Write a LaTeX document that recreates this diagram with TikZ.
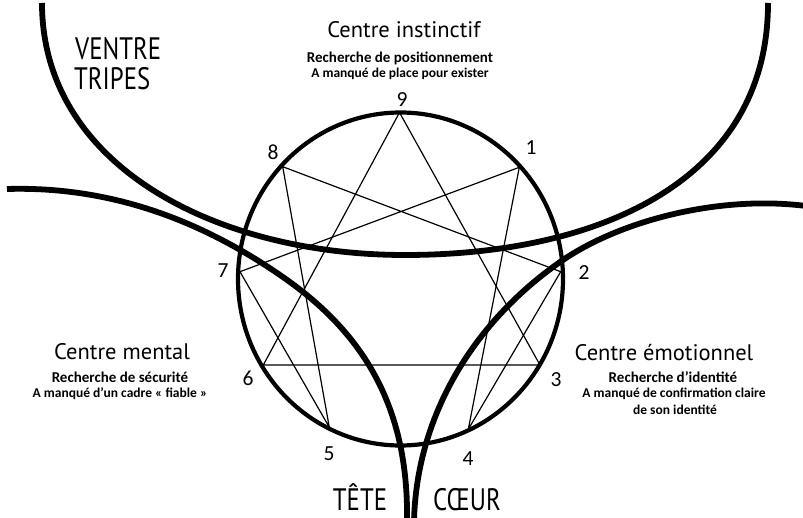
\documentclass[tikz,border=0pt]{standalone}
\usepackage{fontspec}
\setmainfont{Carlito}
\newfontfamily\hand{PT Sans}
\newfontfamily\handn[FakeStretch=0.8]{PT Sans}
\begin{document}
\begin{tikzpicture}[x=1pt,y=-1pt,
  thick curve/.style={line width=5.8pt},
  ring/.style={line width=4.2pt},
  thin line/.style={line width=1.2pt, line join=miter},
  num/.style={font=\fontsize{21.5}{21.5}\selectfont, anchor=base, inner sep=0pt},
  sub/.style={font=\bfseries\fontsize{13.5}{16}\selectfont, anchor=base, inner sep=0pt},
  subbig/.style={font=\bfseries\fontsize{15}{16}\selectfont, anchor=base, inner sep=0pt},
  ctitle/.style={font=\hand\fontsize{22.5}{22.5}\selectfont, anchor=base, inner sep=0pt},
  big/.style={font=\handn\fontsize{31}{31}\selectfont, inner sep=0pt, text depth=0pt}]
\useasboundingbox (0,0) rectangle (803,518);
% vertices
\coordinate (n9) at (399.5,112.5);
\coordinate (n1) at (519.3,167.3);
\coordinate (n2) at (560.7,271.7);
\coordinate (n3) at (540,365);
\coordinate (n4) at (468.3,429.3);
\coordinate (n5) at (329.3,427.3);
\coordinate (n6) at (263.3,365);
\coordinate (n7) at (240,271.7);
\coordinate (n8) at (282.7,166.7);
\coordinate (c) at (400.5,279);
% ring
\draw[ring] (c) ellipse [x radius=162.5, y radius=166.5];
% inner figure
\draw[thin line] (n9) -- (n3) -- (n6) -- cycle;
\draw[thin line] (n1) -- (n4) -- (n2) -- (n8) -- (n5) -- (n7) -- cycle;
% big curves
\coordinate (vl) at (42,3);
\coordinate (vm) at (405,255);
\coordinate (vr) at (768,3);
\draw[thick curve] (vl) .. controls (42,165) and (215,255) .. (vm)
  .. controls (600,255) and (768,180) .. (vr);
\coordinate (tl) at (7,189);
\coordinate (tm) at (280,275);
\coordinate (tb) at (407,522);
\draw[thick curve] (tl) .. controls (110,186) and (200,220) .. (tm)
  .. controls (362,331) and (409,405) .. (tb);
\coordinate (cr) at (806,206);
\coordinate (cm) at (560,262);
\coordinate (cb) at (414,522);
\draw[thick curve] (cr) .. controls (720,195) and (620,220) .. (cm)
  .. controls (470,325) and (416,420) .. (cb);
% numbers
\node[num] (l9) at (402,107) {9};
\node[num] (l1) at (531,155) {1};
\node[num] (l2) at (584,280) {2};
\node[num] (l3) at (556,386) {3};
\node[num] (l4) at (468,465) {4};
\node[num] (l5) at (329,460) {5};
\node[num] (l6) at (248,385) {6};
\node[num] (l7) at (223,278) {7};
\node[num] (l8) at (273,160) {8};
% top texts
\node[ctitle] (ti) at (404,38) {Centre instinctif};
\node[subbig] (ti1) at (400,63) {Recherche de positionnement};
\node[sub] (ti2) at (400,78) {A manqué de place pour exister};
% left texts
\node[ctitle] (tm0) at (122,360) {Centre mental};
\node[subbig] (tm1) at (120,382.5) {Recherche de sécurité};
\node[sub] (tm2) at (120,397.5) {A manqué d’un cadre « fiable »};
% right texts
\node[ctitle] (te0) at (664,361) {Centre émotionnel};
\node[subbig] (te1) at (673,382) {Recherche d’identité};
\node[sub] (te2) at (674,397.5) {A manqué de confirmation claire};
\node[sub] (te3) at (675,414) {de son identité};
% big labels
\node[big, anchor=base west] (ve) at (75,60) {VENTRE};
\node[big, anchor=base west] (tr) at (74,90) {TRIPES};
\node[big, anchor=base] (tt) at (360,510) {TÊTE};
\node[big, anchor=base west] (co) at (433,510) {CŒUR};
\end{tikzpicture}
\end{document}
